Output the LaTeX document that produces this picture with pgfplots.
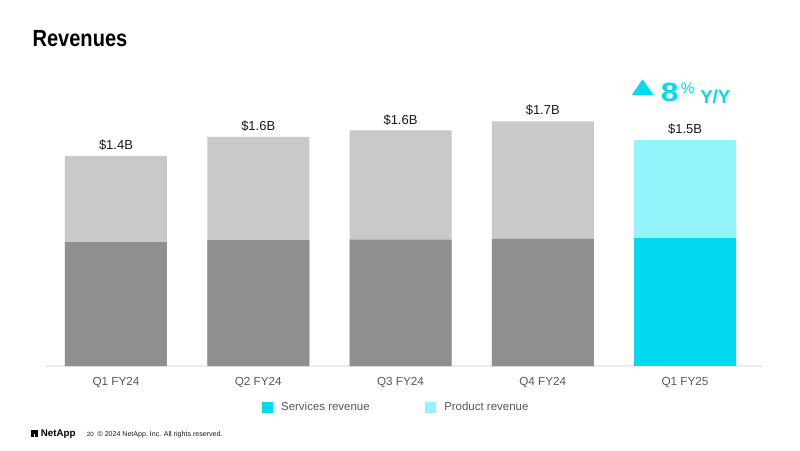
\documentclass[border=0pt]{standalone}
\usepackage{pgfplots}
\pgfplotsset{compat=1.18}
\usepackage{pgfplotstable}
\usepackage{fontspec}
\setmainfont{Liberation Sans}
\definecolor{dgray}{HTML}{8F8F8F}
\definecolor{lgray}{HTML}{C9C9C9}
\definecolor{cyanD}{HTML}{00D9F0}
\definecolor{cyanL}{HTML}{94F4FC}
\definecolor{tickgray}{HTML}{595959}
\definecolor{lbl}{HTML}{1A1A1A}
\definecolor{baseline}{HTML}{EDEDED}

\pgfplotstableread{
x svc total label
0 0.845 1.432 1.4B
1 0.858 1.562 1.6B
2 0.862 1.606 1.6B
3 0.866 1.668 1.7B
}\hist
\pgfplotstableread{
x svc total label
4 0.872 1.541 1.5B
}\cur

\pgfplotsset{sqleg/.style={legend image code/.code={\fill[##1] (0pt,-4.1pt) rectangle (8.25pt,4.1pt);}}}

\begin{document}
\begin{tikzpicture}
\fill[white] (0,0) rectangle (600pt,-337.5pt);
\path[use as bounding box] (0,0) rectangle (600pt,-337.5pt);

% title
\node[anchor=base west, inner sep=0pt] at (24.2pt,-35pt)
  {\scalebox{0.86}[1]{\fontsize{17.5pt}{20pt}\selectfont\bfseries Revenues}};

\begin{axis}[
  at={(34.5pt,-274.5pt)}, anchor=south west,
  scale only axis, width=537pt, height=220pt,
  xmin=-0.492, xmax=4.541, ymin=0, ymax=2,
  axis x line*=bottom, hide y axis,
  axis line style={draw=baseline, line width=1.1pt},
  xtick={0,1,2,3,4},
  xticklabels={Q1 FY24,Q2 FY24,Q3 FY24,Q4 FY24,Q1 FY25},
  major tick length=0pt,
  xticklabel style={font=\fontsize{8.8pt}{10pt}\selectfont, text=tickgray, anchor=base, yshift=-14.25pt, inner sep=0pt},
  ybar, bar width=0.717, bar shift=0pt,
  clip=false,
  every node near coord/.append style={font=\fontsize{9.75pt}{11pt}\selectfont, text=lbl, anchor=base, inner sep=0pt, yshift=4.8pt},
  legend style={at={(rel axis cs:0.3017,-0.1414)}, anchor=west, draw=none, fill=none, inner sep=0pt,
    font=\fontsize{8.6pt}{10pt}\selectfont, text=tickgray,
    /tikz/every odd column/.append style={column sep=3.9pt},
    /tikz/every even column/.append style={column sep=39.75pt}},
  legend columns=2,
]
\addplot[fill=lgray, draw=none, forget plot, point meta=explicit symbolic,
  nodes near coords={\$\pgfplotspointmeta}] table[x=x, y=total, meta=label] {\hist};
\addplot[fill=dgray, draw=none, forget plot] table[x=x, y=svc] {\hist};
\addplot[fill=cyanL, draw=none, forget plot, point meta=explicit symbolic,
  nodes near coords={\$\pgfplotspointmeta}] table[x=x, y=total, meta=label] {\cur};
\addplot[fill=cyanD, draw=none, forget plot] table[x=x, y=svc] {\cur};
\addlegendimage{sqleg, fill=cyanD, draw=none}
\addlegendentry{Services revenue}
\addlegendimage{sqleg, fill=cyanL, draw=none}
\addlegendentry{Product revenue}
\end{axis}

% Y/Y annotation
\fill[cyanD] (473.8pt,-71.25pt) -- (490pt,-71.25pt) -- (481.9pt,-59.5pt) -- cycle;
\node[anchor=base west, inner sep=0pt, text=cyanD] at (495.5pt,-76.3pt)
  {\scalebox{1.2}[1]{\fontsize{19.8pt}{22pt}\selectfont\bfseries 8}};
\node[anchor=base west, inner sep=0pt, text=cyanD] at (510.5pt,-70.3pt) {\fontsize{11.5pt}{13pt}\selectfont \%};
\node[anchor=base west, inner sep=0pt, text=cyanD] at (525pt,-77.4pt) {\fontsize{14pt}{16pt}\selectfont\bfseries Y/Y};

% footer
\fill[black] (23.25pt,-322.5pt) rectangle (28.3pt,-327.7pt);
\fill[white] (25.2pt,-325.2pt) rectangle (26.3pt,-327.8pt);
\node[anchor=base west, inner sep=0pt] at (30.5pt,-327.7pt) {\fontsize{7.3pt}{8pt}\selectfont\bfseries NetApp};
\node[anchor=base west, inner sep=0pt, text=lbl] at (65pt,-327.7pt) {\fontsize{4.6pt}{6pt}\selectfont 20};
\node[anchor=base west, inner sep=0pt, text=lbl] at (73pt,-327.7pt) {\fontsize{5.3pt}{6pt}\selectfont © 2024 NetApp, Inc. All rights reserved.};
\end{tikzpicture}
\end{document}
